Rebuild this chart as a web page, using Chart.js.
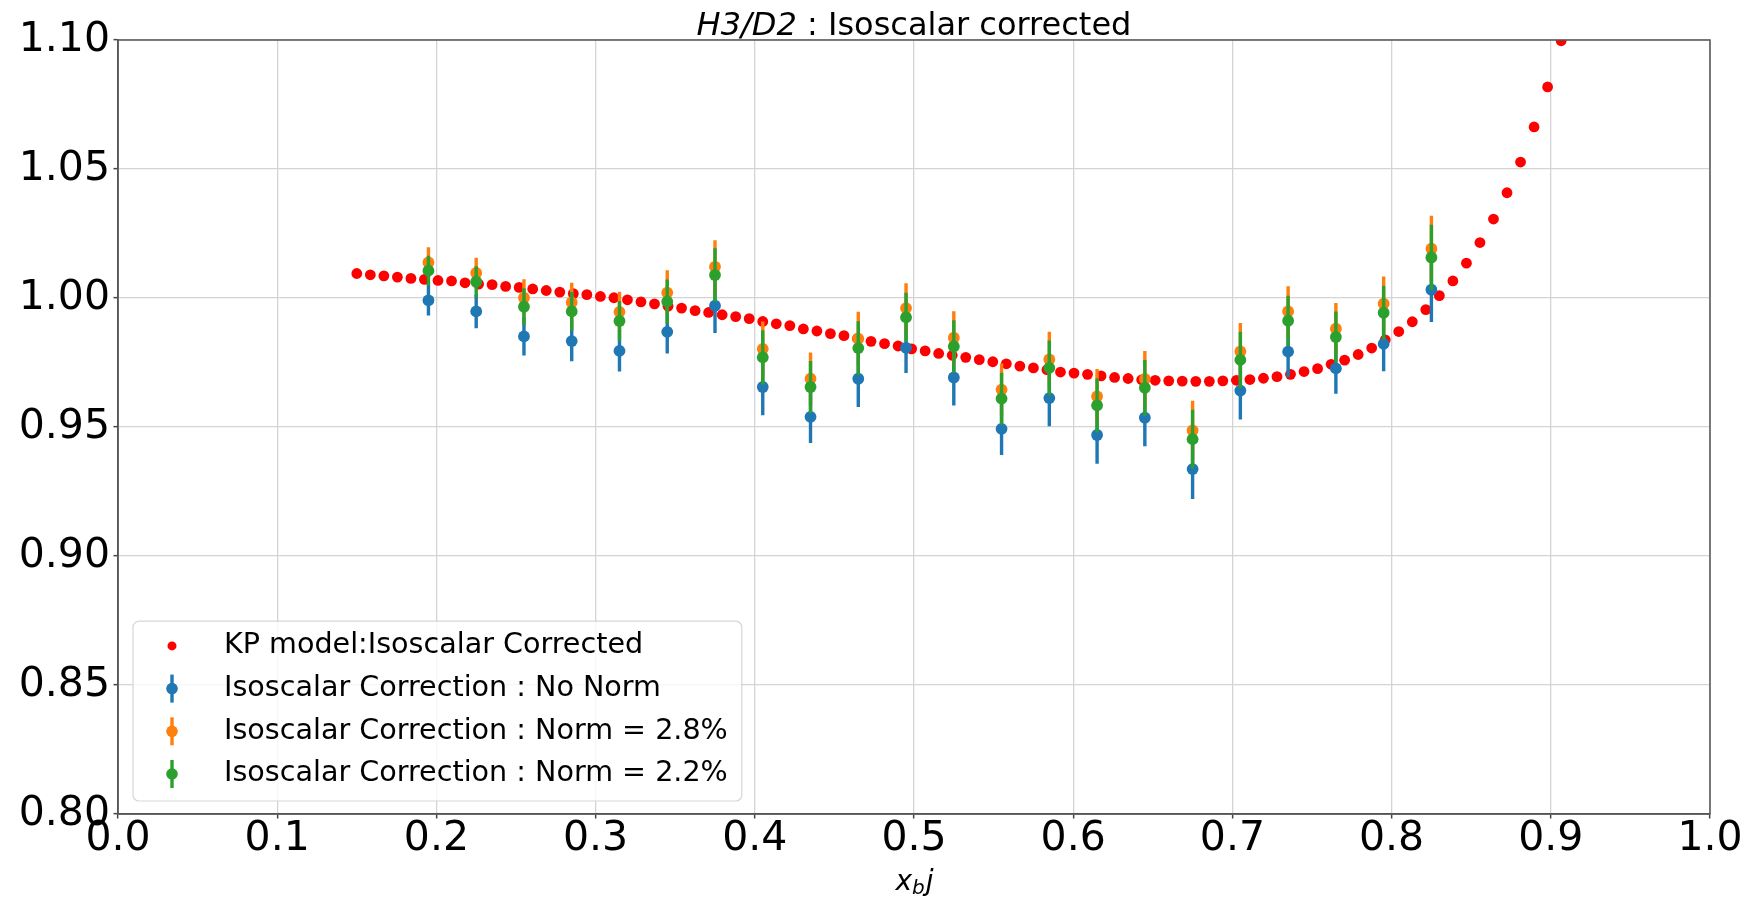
<!DOCTYPE html>
<html>
<head>
<meta charset="utf-8">
<title>H3/D2 : Isoscalar corrected</title>
<script src="https://cdn.jsdelivr.net/npm/chart.js@4.4.1/dist/chart.umd.min.js"></script>
<style>
  html, body { margin: 0; padding: 0; background: #fff; }
  #wrap { width: 1749px; height: 897px; }
</style>
</head>
<body>
<div id="wrap"><canvas id="chart" width="1749" height="897"></canvas></div>
<script>
// KP model curve (red dots)
const modelX = [
  0.1500, 0.1585, 0.1670, 0.1755, 0.1840, 0.1925, 0.2010, 0.2095, 0.2180, 0.2265,
  0.2350, 0.2435, 0.2520, 0.2605, 0.2690, 0.2775, 0.2860, 0.2945, 0.3030, 0.3115,
  0.3200, 0.3285, 0.3370, 0.3455, 0.3540, 0.3625, 0.3710, 0.3795, 0.3880, 0.3965,
  0.4050, 0.4135, 0.4220, 0.4305, 0.4390, 0.4475, 0.4560, 0.4645, 0.4730, 0.4815,
  0.4900, 0.4985, 0.5070, 0.5155, 0.5240, 0.5325, 0.5410, 0.5495, 0.5580, 0.5665,
  0.5750, 0.5835, 0.5920, 0.6005, 0.6090, 0.6175, 0.6260, 0.6345, 0.6430, 0.6515,
  0.6600, 0.6685, 0.6770, 0.6855, 0.6940, 0.7025, 0.7110, 0.7195, 0.7280, 0.7365,
  0.7450, 0.7535, 0.7620, 0.7705, 0.7790, 0.7875, 0.7960, 0.8045, 0.8130, 0.8215,
  0.8300, 0.8385, 0.8470, 0.8555, 0.8640, 0.8725, 0.8810, 0.8895, 0.8980, 0.9065
];
const modelY = [
  1.0095, 1.0090, 1.0086, 1.0081, 1.0076, 1.0072, 1.0068, 1.0066, 1.0059, 1.0054,
  1.0052, 1.0045, 1.0041, 1.0035, 1.0029, 1.0023, 1.0017, 1.0013, 1.0006, 1.0001,
  0.9993, 0.9985, 0.9977, 0.9968, 0.9961, 0.9951, 0.9944, 0.9935, 0.9928, 0.9920,
  0.9909, 0.9900, 0.9893, 0.9880, 0.9872, 0.9862, 0.9854, 0.9843, 0.9832, 0.9823,
  0.9814, 0.9803, 0.9795, 0.9785, 0.9778, 0.9770, 0.9761, 0.9753, 0.9745, 0.9736,
  0.9729, 0.9722, 0.9713, 0.9709, 0.9704, 0.9698, 0.9692, 0.9688, 0.9683, 0.9681,
  0.9679, 0.9678, 0.9677, 0.9677, 0.9679, 0.9681, 0.9684, 0.9689, 0.9695, 0.9704,
  0.9715, 0.9726, 0.9743, 0.9759, 0.9781, 0.9806, 0.9838, 0.9870, 0.9908, 0.9955,
  1.0009, 1.0066, 1.0135, 1.0215, 1.0306, 1.0408, 1.0527, 1.0663, 1.0818, 1.0997
];

// measured ratios, one x bin per point
const binX = [0.195, 0.225, 0.255, 0.285, 0.315, 0.345, 0.375, 0.405, 0.435, 0.465, 0.495,
              0.525, 0.555, 0.585, 0.615, 0.645, 0.675, 0.705, 0.735, 0.765, 0.795, 0.825];
const noNormY = [0.9991, 0.9948, 0.9851, 0.9833, 0.9795, 0.9869, 0.9970, 0.9655, 0.9539, 0.9687, 0.9807,
                 0.9692, 0.9493, 0.9612, 0.9469, 0.9536, 0.9337, 0.9641, 0.9792, 0.9727, 0.9822, 1.0032];
const noNormErr = [0.0059, 0.0065, 0.0074, 0.0078, 0.0080, 0.0084, 0.0106, 0.0109, 0.0101, 0.0109, 0.0098,
                   0.0109, 0.0102, 0.0109, 0.0111, 0.0111, 0.0116, 0.0112, 0.0098, 0.0098, 0.0106, 0.0125];
const norm28Y = [1.0138, 1.0097, 1.0001, 0.9983, 0.9946, 1.0021, 1.0121, 0.9803, 0.9687, 0.9842, 0.9961,
                 0.9846, 0.9645, 0.9762, 0.9619, 0.9686, 0.9487, 0.9793, 0.9948, 0.9881, 0.9978, 1.0191];
const norm28Err = [0.0059, 0.0059, 0.0072, 0.0076, 0.0078, 0.0087, 0.0103, 0.0106, 0.0102, 0.0105, 0.0096,
                   0.0103, 0.0101, 0.0107, 0.0106, 0.0109, 0.0115, 0.0110, 0.0098, 0.0100, 0.0105, 0.0128];
const norm22Y = [1.0106, 1.0063, 0.9966, 0.9948, 0.9911, 0.9986, 1.0089, 0.9770, 0.9655, 0.9806, 0.9925,
                 0.9812, 0.9610, 0.9729, 0.9584, 0.9652, 0.9453, 0.9760, 0.9912, 0.9849, 0.9943, 1.0157];
const norm22Err = [0.0058, 0.0060, 0.0072, 0.0075, 0.0077, 0.0086, 0.0104, 0.0105, 0.0101, 0.0104, 0.0095,
                   0.0102, 0.0100, 0.0106, 0.0105, 0.0108, 0.0114, 0.0109, 0.0097, 0.0099, 0.0104, 0.0127];

const xTickValues = [0, 0.1, 0.2, 0.3, 0.4, 0.5, 0.6, 0.7, 0.8, 0.9, 1.0];
const xTickLabels = ['0.0', '0.1', '0.2', '0.3', '0.4', '0.5', '0.6', '0.7', '0.8', '0.9', '1.0'];
const yTickValues = [0.80, 0.85, 0.90, 0.95, 1.00, 1.05, 1.10];
const yTickLabels = ['0.80', '0.85', '0.90', '0.95', '1.00', '1.05', '1.10'];

const FONT = "'DejaVu Sans', sans-serif";

const zip = (xs, ys) => xs.map((x, i) => ({ x, y: ys[i] }));

// vertical error bars, drawn just before each dataset's markers
const errorBars = {
    id: 'errorBars',
    beforeDatasetDraw(chart, args) {
        const ds = chart.data.datasets[args.index];
        if (!ds.yErr) return;
        const { ctx, chartArea: a, scales: { x, y } } = chart;
        ctx.save();
        ctx.beginPath();
        ctx.rect(a.left, a.top, a.right - a.left, a.bottom - a.top);
        ctx.clip();
        ctx.strokeStyle = ds.backgroundColor;
        ctx.lineWidth = 3.4;
        ctx.beginPath();
        ds.data.forEach((p, i) => {
            const px = x.getPixelForValue(p.x);
            ctx.moveTo(px, y.getPixelForValue(p.y - ds.yErr[i]));
            ctx.lineTo(px, y.getPixelForValue(p.y + ds.yErr[i]));
        });
        ctx.stroke();
        ctx.restore();
    },
};

// frame, legend box, title and axis label (matplotlib style)
const decorations = {
    id: 'decorations',
    afterDatasetsDraw(chart) {
        const { ctx, chartArea: a } = chart;
        ctx.save();
        ctx.strokeStyle = '#555';
        ctx.lineWidth = 1.5;
        ctx.strokeRect(a.left, a.top, a.right - a.left, a.bottom - a.top);

        // legend
        ctx.font = `28.6px ${FONT}`;
        const items = chart.data.datasets;
        const textW = Math.max(...items.map((d) => ctx.measureText(d.label).width));
        const rowH = 42.7;
        const boxW = 91 + textW + 14;
        const boxH = 24.7 + rowH * (items.length - 1) + 27;
        const bx = a.left + 15;
        const by = a.bottom - 13 - boxH;
        ctx.beginPath();
        ctx.roundRect(bx, by, boxW, boxH, 6);
        ctx.fillStyle = 'rgba(255,255,255,0.8)';
        ctx.fill();
        ctx.strokeStyle = 'rgba(204,204,204,0.8)';
        ctx.lineWidth = 1.2;
        ctx.stroke();
        items.forEach((d, i) => {
            const cy = by + 24.7 + i * rowH;
            const mx = bx + 39;
            if (d.yErr) {
                ctx.strokeStyle = d.backgroundColor;
                ctx.lineWidth = 3.4;
                ctx.beginPath();
                ctx.moveTo(mx, cy - 14);
                ctx.lineTo(mx, cy + 14);
                ctx.stroke();
            }
            ctx.fillStyle = d.backgroundColor;
            ctx.beginPath();
            ctx.arc(mx, cy, d.yErr ? 5.8 : 4.5, 0, Math.PI * 2);
            ctx.fill();
            ctx.fillStyle = '#000';
            ctx.textBaseline = 'middle';
            ctx.textAlign = 'left';
            ctx.fillText(d.label, bx + 91, cy);
        });
        ctx.restore();
    },
    afterDraw(chart) {
        const { ctx, chartArea: a } = chart;
        const cx = (a.left + a.right) / 2;
        ctx.save();
        ctx.fillStyle = '#000';
        ctx.textBaseline = 'alphabetic';
        ctx.textAlign = 'left';

        // title: "$H3/D2$ : Isoscalar corrected"
        const tItalic = `italic 32px ${FONT}`;
        const tNormal = `32px ${FONT}`;
        const p1 = 'H3/D2', p2 = ' : Isoscalar corrected';
        ctx.font = tItalic; const w1 = ctx.measureText(p1).width;
        ctx.font = tNormal; const w2 = ctx.measureText(p2).width;
        const tx = cx - (w1 + w2) / 2;
        const ty = a.top - 5;
        ctx.font = tItalic; ctx.fillText(p1, tx, ty);
        ctx.font = tNormal; ctx.fillText(p2, tx + w1, ty);

        // x label: "$x_bj$"
        const big = `italic 28px ${FONT}`;
        const small = `italic 20px ${FONT}`;
        ctx.font = big; const wx = ctx.measureText('x').width; const wj = ctx.measureText('j').width;
        ctx.font = small; const wb = ctx.measureText('b').width;
        const lx = cx - (wx + wb + wj) / 2;
        const ly = a.bottom + 76;
        ctx.font = big; ctx.fillText('x', lx, ly);
        ctx.font = small; ctx.fillText('b', lx + wx, ly + 4);
        ctx.font = big; ctx.fillText('j', lx + wx + wb + 1, ly);
        ctx.restore();
    },
};

const gridOpts = {
    color: '#d4d4d4',
    lineWidth: 1.3,
    drawTicks: true,
    tickLength: 4.5,
    tickColor: '#444',
    tickWidth: 1.5,
};

new Chart(document.getElementById('chart'), {
    type: 'scatter',
    data: {
        datasets: [
            {
                label: 'KP model:Isoscalar Corrected',
                data: zip(modelX, modelY),
                backgroundColor: '#ff0000',
                pointRadius: 5.4,
                pointBorderWidth: 0,
                order: 4,
                clip: 0,
            },
            {
                label: 'Isoscalar Correction : No Norm',
                data: zip(binX, noNormY),
                yErr: noNormErr,
                backgroundColor: '#1f77b4',
                pointRadius: 5.9,
                pointBorderWidth: 0,
                order: 3,
                clip: 0,
            },
            {
                label: 'Isoscalar Correction : Norm = 2.8%',
                data: zip(binX, norm28Y),
                yErr: norm28Err,
                backgroundColor: '#ff7f0e',
                pointRadius: 5.9,
                pointBorderWidth: 0,
                order: 2,
                clip: 0,
            },
            {
                label: 'Isoscalar Correction : Norm = 2.2%',
                data: zip(binX, norm22Y),
                yErr: norm22Err,
                backgroundColor: '#2ca02c',
                pointRadius: 5.9,
                pointBorderWidth: 0,
                order: 1,
                clip: 0,
            },
        ],
    },
    options: {
        responsive: false,
        animation: false,
        devicePixelRatio: 1,
        layout: { padding: { left: 0, right: 39, top: 40, bottom: 0 } },
        plugins: {
            legend: { display: false },
            title: { display: false },
            tooltip: { enabled: false },
        },
        scales: {
            x: {
                type: 'linear',
                min: 0,
                max: 1,
                afterBuildTicks: (s) => { s.ticks = xTickValues.map((value) => ({ value })); },
                afterFit: (s) => { s.height = 83; },
                ticks: {
                    autoSkip: false,
                    maxRotation: 0,
                    padding: 0,
                    color: '#000',
                    font: { family: FONT, size: 41, lineHeight: 1.0 },
                    callback: (v, i) => xTickLabels[i],
                },
                grid: gridOpts,
                border: { color: '#555', width: 1.5 },
            },
            y: {
                type: 'linear',
                min: 0.8,
                max: 1.1,
                afterBuildTicks: (s) => { s.ticks = yTickValues.map((value) => ({ value })); },
                afterFit: (s) => { s.width = 118; },
                ticks: {
                    autoSkip: false,
                    padding: 3.5,
                    color: '#000',
                    font: { family: FONT, size: 41, lineHeight: 1.0 },
                    callback: (v, i) => yTickLabels[i],
                },
                grid: gridOpts,
                border: { color: '#555', width: 1.5 },
            },
        },
    },
    plugins: [errorBars, decorations],
});
</script>
</body>
</html>
